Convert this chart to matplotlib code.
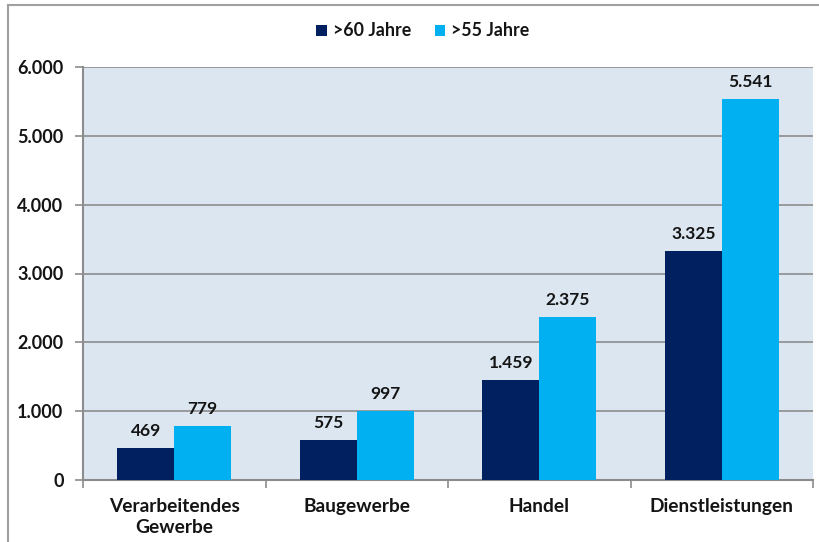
import matplotlib
matplotlib.use("Agg")
import matplotlib.pyplot as plt
import numpy as np
from matplotlib.lines import Line2D

categories = ["Verarbeitendes\nGewerbe", "Baugewerbe", "Handel", "Dienstleistungen"]
series_names = [">60 Jahre", ">55 Jahre"]
values_60 = [469, 575, 1459, 3325]
values_55 = [779, 997, 2375, 5541]
y_ticks = [0, 1000, 2000, 3000, 4000, 5000, 6000]
y_tick_labels = ["0", "1.000", "2.000", "3.000", "4.000", "5.000", "6.000"]
value_labels_60 = ["469", "575", "1.459", "3.325"]
value_labels_55 = ["779", "997", "2.375", "5.541"]

c_dark = "#002060"
c_light = "#00B0F0"
bg = "#DCE6F1"
grid_c = "#8C8C8C"
txt_c = "#141414"
FW = "bold"

plt.rcParams['font.family'] = ['Lato', 'DejaVu Sans']

fig = plt.figure(figsize=(8.19, 5.42), dpi=100)
W, H = 819, 542
ax = fig.add_axes([83 / W, 1 - 480 / H, (813 - 83) / W, (480 - 67) / H])

# outer chart border
fig.add_artist(Line2D([8 / W, 8 / W], [0, 1 - 5 / H], transform=fig.transFigure, color="#A0A0A0", lw=1.5))
fig.add_artist(Line2D([8 / W, 1], [1 - 5 / H, 1 - 5 / H], transform=fig.transFigure, color="#A0A0A0", lw=1.5))

x = np.arange(len(categories))
bw = 0.312
ax.set_facecolor(bg)
b1 = ax.bar(x - bw / 2, values_60, bw, color=c_dark, zorder=3, label=series_names[0])
b2 = ax.bar(x + bw / 2, values_55, bw, color=c_light, zorder=3, label=series_names[1])

for xi, v, t in zip(x, values_60, value_labels_60):
    ax.text(xi - bw / 2, v + 130, t, ha="center", va="bottom", fontsize=12.5, fontweight=FW, color=txt_c)
for xi, v, t in zip(x, values_55, value_labels_55):
    ax.text(xi + bw / 2, v + 130, t, ha="center", va="bottom", fontsize=12.5, fontweight=FW, color=txt_c)

ax.set_xlim(-0.5, len(categories) - 0.5)
ax.set_ylim(0, 6000)
ax.set_yticks(y_ticks)
ax.set_yticklabels(y_tick_labels, fontsize=13, fontweight=FW, color=txt_c)
ax.yaxis.grid(True, color=grid_c, lw=1.2, zorder=1)
ax.set_axisbelow(True)

ax.set_xticks(x)
ax.set_xticklabels(categories, fontsize=13.8, fontweight=FW, color=txt_c, linespacing=1.3)
ax.tick_params(axis="x", length=0, pad=13)
ax.set_xticks(np.arange(-0.5, len(categories)), minor=True)
ax.tick_params(axis="x", which="minor", length=6, color=grid_c, width=1.2)
ax.tick_params(axis="y", length=6, color=grid_c, width=1.2, pad=8)

for s in ["top", "right"]:
    ax.spines[s].set_visible(False)
for s in ["left", "bottom"]:
    ax.spines[s].set_color(grid_c)
    ax.spines[s].set_linewidth(1.5)

leg = fig.legend(handles=[b1, b2], labels=series_names, loc="center", bbox_to_anchor=(423 / W, 1 - 31 / H),
                 ncol=2, frameon=False, prop={"size": 12.8, "weight": FW}, handlelength=0.6, handleheight=0.6,
                 handletextpad=0.35, columnspacing=1.3)
for t in leg.get_texts():
    t.set_color(txt_c)

fig.savefig("out.png", dpi=100)
